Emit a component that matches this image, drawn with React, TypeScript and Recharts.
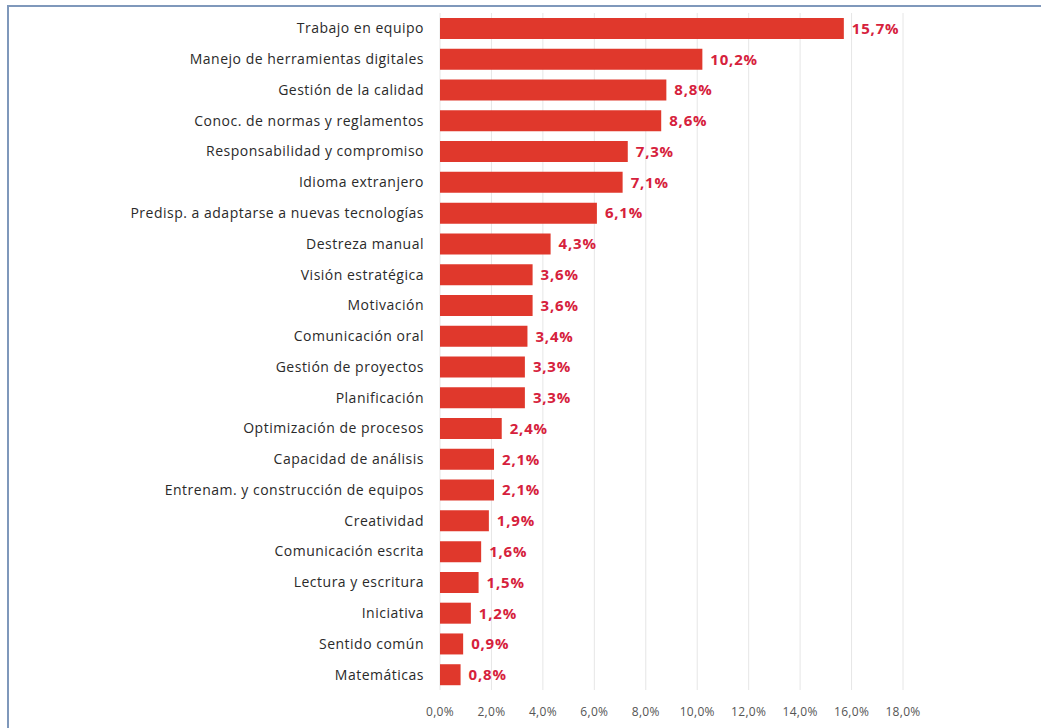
import React from 'react';
import {
  Bar,
  BarChart,
  CartesianGrid,
  LabelList,
  XAxis,
  YAxis,
} from 'recharts';

const categories = [
  'Trabajo en equipo',
  'Manejo de herramientas digitales',
  'Gestión de la calidad',
  'Conoc. de normas y reglamentos',
  'Responsabilidad y compromiso',
  'Idioma extranjero',
  'Predisp. a adaptarse a nuevas tecnologías',
  'Destreza manual',
  'Visión estratégica',
  'Motivación',
  'Comunicación oral',
  'Gestión de proyectos',
  'Planificación',
  'Optimización de procesos',
  'Capacidad de análisis',
  'Entrenam. y construcción de equipos',
  'Creatividad',
  'Comunicación escrita',
  'Lectura y escritura',
  'Iniciativa',
  'Sentido común',
  'Matemáticas',
];

const shares = [
  15.7, 10.2, 8.8, 8.6, 7.3, 7.1, 6.1, 4.3, 3.6, 3.6, 3.4, 3.3, 3.3, 2.4, 2.1,
  2.1, 1.9, 1.6, 1.5, 1.2, 0.9, 0.8,
];

const xTicks = [0, 2, 4, 6, 8, 10, 12, 14, 16, 18];

const data = categories.map((name, i) => ({ name, value: shares[i] }));

const pct = (v: number) => v.toFixed(1).replace('.', ',') + '%';

const FONT = '"Open Sans", "Liberation Sans", sans-serif';

export default function App() {
  return (
    <div style={{ position: 'absolute', left: 0, top: 0, width: 1041, height: 728, background: '#fff', overflow: 'hidden' }}>
      <div
        style={{
          position: 'absolute',
          left: 7,
          top: 5,
          width: 1100,
          height: 800,
          borderLeft: '2px solid #7f98bb',
          borderTop: '2px solid #7f98bb',
        }}
      />
      <div style={{ position: 'absolute', left: 0, top: 0 }}>
        <BarChart
          width={1041}
          height={728}
          data={data}
          layout="vertical"
          margin={{ top: 13, right: 138, bottom: 8, left: 10 }}
          style={{ fontFamily: FONT }}
        >
          <CartesianGrid horizontal={false} stroke="#e6e6e6" />
          <XAxis
            type="number"
            domain={[0, 18]}
            ticks={xTicks}
            tickFormatter={pct}
            axisLine={false}
            tickLine={false}
            tickSize={0}
            tickMargin={17}
            tick={{ fill: '#555', fontSize: 12, letterSpacing: 0.3 }}
          />
          <YAxis
            type="category"
            dataKey="name"
            width={430}
            axisLine={false}
            tickLine={false}
            tickSize={0}
            tickMargin={16}
            interval={0}
            tick={{ fill: '#2a2a2a', fontSize: 14, letterSpacing: 0.5 }}
          />
          <Bar dataKey="value" fill="#e0382c" barSize={21} isAnimationActive={false}>
            <LabelList
              dataKey="value"
              position="right"
              offset={8}
              formatter={(v: any) => pct(Number(v))}
              style={{ fill: '#d6213c', fontWeight: 'bold', fontSize: 15, letterSpacing: 0.8 }}
            />
          </Bar>
        </BarChart>
      </div>
    </div>
  );
}
